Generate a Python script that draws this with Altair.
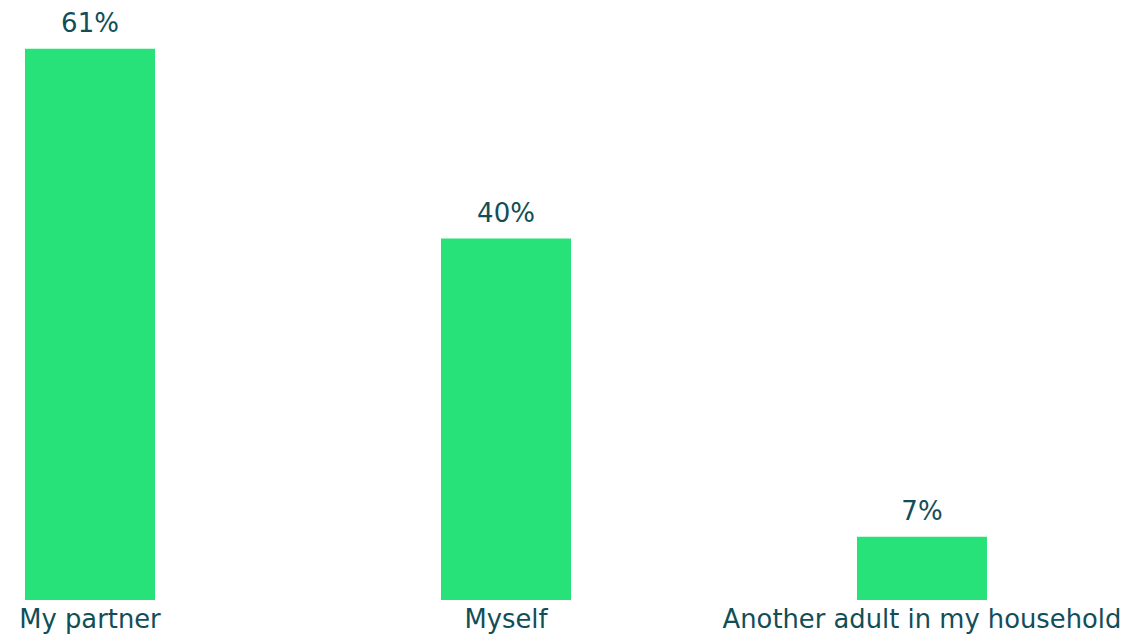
import altair as alt
import pandas as pd

categories = ["My partner", "Myself", "Another adult in my household"]
values = [61, 40, 7]
labels = ["61%", "40%", "7%"]

df = pd.DataFrame({"category": categories, "value": values, "label": labels})

FONT = "DejaVu Sans"
TEXT_COLOR = "#124E58"
BAR_COLOR = "#26E278"

x = alt.X(
    "category:N",
    sort=categories,
    title=None,
    scale=alt.Scale(paddingInner=0.6875, paddingOuter=0.1839, align=0.111),
    axis=alt.Axis(
        labelAngle=0,
        labelFont=FONT,
        labelFontSize=25.8,
        labelColor=TEXT_COLOR,
        labelPadding=7,
        labelLimit=0,
        labelOverlap=False,
        domain=False,
        ticks=False,
        grid=False,
    ),
)
y = alt.Y(
    "value:Q",
    title=None,
    scale=alt.Scale(domain=[0, 65.5], nice=False),
    axis=None,
)

bars = alt.Chart(df).mark_bar(color=BAR_COLOR).encode(x=x, y=y)
text = alt.Chart(df).mark_text(
    font=FONT, fontSize=26, color=TEXT_COLOR, baseline="alphabetic", dy=-16.5
).encode(x=x, y=y, text="label:N")

chart = (
    (bars + text)
    .properties(
        width=1115,
        height=592,
        padding={"top": 0, "left": 0, "right": 0, "bottom": 36},
        autosize=alt.AutoSizeParams(type="none"),
    )
    .configure(background="white")
    .configure_view(strokeWidth=0, stroke="transparent")
)

chart.save("out.html", embed_options={"renderer": "svg", "actions": False})
